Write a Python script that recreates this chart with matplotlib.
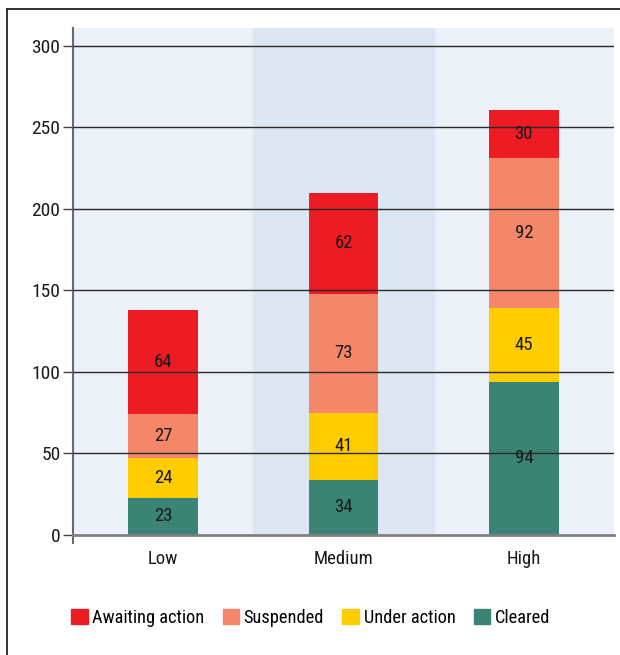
import matplotlib
matplotlib.use("Agg")
import matplotlib.pyplot as plt
from matplotlib.patches import Patch
from matplotlib.lines import Line2D
import numpy as np

plt.rcParams['font.family'] = ['Roboto Condensed', 'Liberation Sans Narrow', 'Roboto', 'DejaVu Sans']

categories = ['Low', 'Medium', 'High']
cleared = [23, 34, 94]
under_action = [24, 41, 45]
suspended = [27, 73, 92]
awaiting = [64, 62, 30]

series = [
    ('Cleared', cleared, '#3b8474'),
    ('Under action', under_action, '#ffcc00'),
    ('Suspended', suspended, '#f4866a'),
    ('Awaiting action', awaiting, '#ed1c24'),
]

fig = plt.figure(figsize=(6.2, 6.55), dpi=100)
ax = fig.add_axes([73 / 620, 1 - 535 / 655, 541 / 620, 507 / 655])
ax.set_facecolor('#ecf1f8')

x = np.arange(len(categories))
ax.axvspan(0.5, 1.5, color='#dde7f3', zorder=0)

bottom = np.zeros(len(categories))
for name, vals, col in series:
    vals = np.array(vals)
    ax.bar(x, vals, width=0.385, bottom=bottom, color=col, zorder=2)
    for xi, b, v in zip(x, bottom, vals):
        ax.text(xi, b + v / 2, str(v), ha='center', va='center',
                fontsize=13.5, color='#1a1a1a', zorder=4)
    bottom += vals

ax.set_xlim(-0.5, 2.5)
ax.set_ylim(0, 311)
ax.set_yticks(range(0, 301, 50))
ax.set_xticks(x)
ax.set_xticklabels(categories)
for yv in range(50, 301, 50):
    ax.axhline(yv, color='#2a2a2a', lw=1.0, zorder=3)

for s in ['top', 'right']:
    ax.spines[s].set_visible(False)
ax.spines['left'].set_color('#6a6a6a')
ax.spines['left'].set_linewidth(1.5)
ax.spines['bottom'].set_color('#808080')
ax.spines['bottom'].set_linewidth(2)
ax.spines['bottom'].set_zorder(5)
ax.add_line(Line2D([0, 0], [0, -0.015], transform=ax.transAxes,
                   color='#6a6a6a', lw=1.5, clip_on=False))
ax.tick_params(axis='y', length=7, width=1, color='#444444',
               labelsize=14, pad=2, labelcolor='#1a1a1a')
ax.tick_params(axis='x', length=0, labelsize=13.5, pad=11,
               labelcolor='#1a1a1a')

handles = [Patch(color=col, label=name) for name, vals, col in reversed(series)]
fig.legend(handles=handles, loc='center left',
           bbox_to_anchor=(71 / 620, 1 - 618 / 655), ncol=4, frameon=False,
           fontsize=13.2, handlelength=0.9, handleheight=0.9,
           handletextpad=0.25, columnspacing=1.0, borderpad=0,
           borderaxespad=0)

# frame lines along the top and left edge of the figure
fig.add_artist(Line2D([6.5 / 620, 1], [1 - 9 / 655, 1 - 9 / 655],
                      transform=fig.transFigure, color='#222222', lw=1.3))
fig.add_artist(Line2D([6.5 / 620, 6.5 / 620], [0, 1 - 9 / 655],
                      transform=fig.transFigure, color='#222222', lw=1.3))

fig.savefig('out.png', dpi=100)
